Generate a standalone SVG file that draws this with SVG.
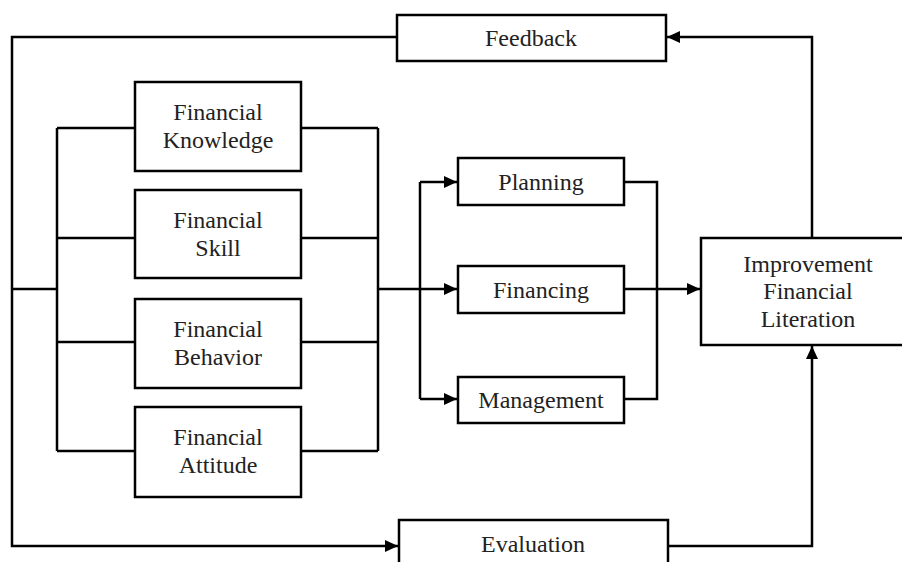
<svg xmlns="http://www.w3.org/2000/svg" width="902" height="562" viewBox="0 0 902 562">
<style>
.box{fill:#fff;stroke:#000;stroke-width:2.5}
.t{font-family:"Liberation Serif","Times New Roman",serif;font-size:24px;fill:#222;text-anchor:middle}
.c{fill:none;stroke:#000;stroke-width:2.5}
</style>
<defs>
<marker id="ah" markerUnits="userSpaceOnUse" markerWidth="14" markerHeight="12" refX="13" refY="6" orient="auto">
<path d="M0,0 L13,6 L0,12 Z" fill="#000"/>
</marker>
</defs>
<rect width="902" height="562" fill="#fff"/>
<g id="connectors">
<path class="c" d="M397,37 H12 V546 H398" marker-end="url(#ah)"/>
<path class="c" d="M12,289 H57"/>
<path class="c" d="M57,128 V451"/>
<path class="c" d="M57,128 H135 M57,238 H135 M57,342 H135 M57,451 H135"/>
<path class="c" d="M301,128 H378 M301,238 H378 M301,342 H378 M301,451 H378"/>
<path class="c" d="M378,128 V451"/>
<path class="c" d="M378,289 H457" marker-end="url(#ah)"/>
<path class="c" d="M420,182 V399"/>
<path class="c" d="M420,182 H457" marker-end="url(#ah)"/>
<path class="c" d="M420,399 H457" marker-end="url(#ah)"/>
<path class="c" d="M624,182 H657 V399 H624"/>
<path class="c" d="M624,289 H700" marker-end="url(#ah)"/>
<path class="c" d="M812,238 V37 H667" marker-end="url(#ah)"/>
<path class="c" d="M668,546 H812 V346" marker-end="url(#ah)"/>
</g>
<g id="feedback"><rect class="box" x="397" y="15" width="269" height="46"/><text class="t" x="531" y="46">Feedback</text></g>
<g id="knowledge"><rect class="box" x="135" y="82" width="166" height="89"/><text class="t" x="218" y="120">Financial</text><text class="t" x="218" y="148">Knowledge</text></g>
<g id="skill"><rect class="box" x="135" y="190" width="166" height="88"/><text class="t" x="218" y="228">Financial</text><text class="t" x="218" y="256">Skill</text></g>
<g id="behavior"><rect class="box" x="135" y="299" width="166" height="89"/><text class="t" x="218" y="337">Financial</text><text class="t" x="218" y="365">Behavior</text></g>
<g id="attitude"><rect class="box" x="135" y="407" width="166" height="90"/><text class="t" x="218" y="445">Financial</text><text class="t" x="218" y="473">Attitude</text></g>
<g id="planning"><rect class="box" x="458" y="158" width="166" height="47"/><text class="t" x="541" y="190">Planning</text></g>
<g id="financing"><rect class="box" x="458" y="266" width="166" height="47"/><text class="t" x="541" y="298">Financing</text></g>
<g id="management"><rect class="box" x="458" y="377" width="166" height="46"/><text class="t" x="541" y="408">Management</text></g>
<g id="improvement"><rect class="box" x="701" y="238" width="230" height="107"/><text class="t" x="808" y="272">Improvement</text><text class="t" x="808" y="299">Financial</text><text class="t" x="808" y="327">Literation</text></g>
<g id="evaluation"><rect class="box" x="399" y="520" width="269" height="60"/><text class="t" x="533" y="552">Evaluation</text></g>
</svg>
